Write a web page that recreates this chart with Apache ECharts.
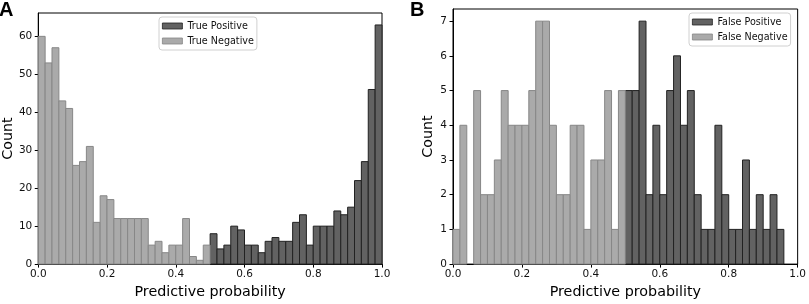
<!DOCTYPE html>
<html>
<head>
<meta charset="utf-8">
<script src="https://cdn.jsdelivr.net/npm/echarts@6/dist/echarts.min.js"></script>
<style>
html,body{margin:0;padding:0;background:#fff;}
#chart{width:809px;height:304px;}
</style>
</head>
<body>
<div id="chart"></div>
<script>
// ---- Data (histogram counts per bin of width 0.02, from 0.0 to 1.0) ----
const BIN_WIDTH = 0.02;
const xTicks = [0, 0.2, 0.4, 0.6, 0.8, 1.0];
const yTicksA = [0, 10, 20, 30, 40, 50, 60];
const yTicksB = [0, 1, 2, 3, 4, 5, 6, 7];

// Panel A
const trueNegative = [60, 53, 57, 43, 41, 26, 27, 31, 11, 18, 17, 12, 12, 12, 12, 12, 5, 6, 3, 5, 5, 12, 2, 1, 5,
                      0, 0, 0, 0, 0, 0, 0, 0, 0, 0, 0, 0, 0, 0, 0, 0, 0, 0, 0, 0, 0, 0, 0, 0, 0];
const truePositive = [0, 0, 0, 0, 0, 0, 0, 0, 0, 0, 0, 0, 0, 0, 0, 0, 0, 0, 0, 0, 0, 0, 0, 0, 0,
                      8, 4, 5, 10, 9, 5, 5, 3, 6, 7, 6, 6, 11, 13, 5, 10, 10, 10, 14, 13, 15, 22, 27, 46, 63];
// Panel B
const falseNegative = [1, 4, 0, 5, 2, 2, 3, 5, 4, 4, 4, 5, 7, 7, 4, 2, 2, 4, 4, 1, 3, 3, 5, 1, 5,
                       0, 0, 0, 0, 0, 0, 0, 0, 0, 0, 0, 0, 0, 0, 0, 0, 0, 0, 0, 0, 0, 0, 0, 0, 0];
const falsePositive = [0, 0, 0, 0, 0, 0, 0, 0, 0, 0, 0, 0, 0, 0, 0, 0, 0, 0, 0, 0, 0, 0, 0, 0, 0,
                       5, 5, 7, 2, 4, 2, 5, 6, 4, 5, 2, 1, 1, 4, 2, 1, 1, 3, 1, 2, 1, 2, 1, 0, 0];

const DARK = '#626262', DARK_EDGE = '#222222';
const LIGHT = '#aaaaaa', LIGHT_EDGE = '#878787';
const FONT = 'DejaVu Sans';

function toBins(counts) {
  const out = [];
  counts.forEach((c, i) => { if (c > 0) out.push([i * BIN_WIDTH, (i + 1) * BIN_WIDTH, c]); });
  return out;
}

function renderBin(params, api) {
  const p0 = api.coord([api.value(0), 0]);
  const p1 = api.coord([api.value(1), api.value(2)]);
  const st = api.style();
  return {
    type: 'rect',
    shape: { x: p0[0], y: p1[1], width: p1[0] - p0[0], height: p0[1] - p1[1] },
    style: { fill: st.fill, stroke: st.stroke, lineWidth: 1 }
  };
}

function xAxisFor(gridIndex) {
  return {
    type: 'value', gridIndex, min: 0, max: 1, interval: 0.2,
    name: 'Predictive probability', nameLocation: 'middle', nameGap: 17,
    nameTextStyle: { fontFamily: FONT, fontSize: 14.3, color: '#000' },
    axisLine: { show: true, lineStyle: { color: '#000', width: 1 } },
    axisTick: { show: true, inside: false, length: 3.5, lineStyle: { color: '#000' } },
    axisLabel: { fontFamily: FONT, fontSize: 10.5, color: '#111', margin: 5,
                 formatter: v => v.toFixed(1) },
    splitLine: { show: false }
  };
}

function yAxisFor(gridIndex, max, ticks, nameGap) {
  return {
    type: 'value', gridIndex, min: 0, max,
    name: 'Count', nameLocation: 'middle', nameGap, nameRotate: 90,
    nameTextStyle: { fontFamily: FONT, fontSize: 14.3, color: '#000' },
    axisLine: { show: true, lineStyle: { color: '#000', width: 1 } },
    axisTick: { show: true, inside: false, length: 3.5, lineStyle: { color: '#000' }, customValues: ticks },
    axisLabel: { fontFamily: FONT, fontSize: 10.5, color: '#111', margin: 6, customValues: ticks },
    splitLine: { show: false }
  };
}

function legendFor(names, left, top) {
  return {
    orient: 'vertical', left, top,
    data: names,
    itemWidth: 20, itemHeight: 6, itemGap: 5,
    padding: [4, 3, 4, 3],
    borderColor: '#d0d0d0', borderWidth: 1, borderRadius: 3, backgroundColor: '#fff',
    textStyle: { fontFamily: FONT, fontSize: 9.6, color: '#111' },
    itemStyle: { borderWidth: 0.8 },
    icon: 'rect', selectedMode: false
  };
}

const chart = echarts.init(document.getElementById('chart'), null, { renderer: 'canvas' });
chart.setOption({
  animation: false,
  backgroundColor: '#fff',
  title: [
    { text: 'A', left: -1, top: 0, padding: 0,
      textStyle: { fontFamily: 'Liberation Sans', fontWeight: 'bold', fontSize: 20, color: '#000' } },
    { text: 'B', left: 410, top: 0, padding: 0,
      textStyle: { fontFamily: 'Liberation Sans', fontWeight: 'bold', fontSize: 20, color: '#000' } }
  ],
  grid: [
    { left: 38, top: 13, width: 344, height: 257, show: true, borderColor: '#000', borderWidth: 1, containLabel: false },
    { left: 453, top: 9, width: 348, height: 260, show: true, borderColor: '#000', borderWidth: 1, containLabel: false }
  ],
  legend: [
    legendFor(['True Positive', 'True Negative'], 159, 17),
    legendFor(['False Positive', 'False Negative'], 689, 13)
  ],
  xAxis: [xAxisFor(0), xAxisFor(1)],
  yAxis: [yAxisFor(0, 66.15, yTicksA, 23), yAxisFor(1, 7.35, yTicksB, 18)],
  series: [
    { name: 'True Positive', type: 'custom', xAxisIndex: 0, yAxisIndex: 0, renderItem: renderBin,
      itemStyle: { color: DARK, borderColor: DARK_EDGE, borderWidth: 1 },
      encode: { x: [0, 1], y: 2 }, data: toBins(truePositive) },
    { name: 'True Negative', type: 'custom', xAxisIndex: 0, yAxisIndex: 0, renderItem: renderBin,
      itemStyle: { color: LIGHT, borderColor: LIGHT_EDGE, borderWidth: 1 },
      encode: { x: [0, 1], y: 2 }, data: toBins(trueNegative) },
    { name: 'False Positive', type: 'custom', xAxisIndex: 1, yAxisIndex: 1, renderItem: renderBin,
      itemStyle: { color: DARK, borderColor: DARK_EDGE, borderWidth: 1 },
      encode: { x: [0, 1], y: 2 }, data: toBins(falsePositive) },
    { name: 'False Negative', type: 'custom', xAxisIndex: 1, yAxisIndex: 1, renderItem: renderBin,
      itemStyle: { color: LIGHT, borderColor: LIGHT_EDGE, borderWidth: 1 },
      encode: { x: [0, 1], y: 2 }, data: toBins(falseNegative) }
  ]
});
</script>
</body>
</html>
